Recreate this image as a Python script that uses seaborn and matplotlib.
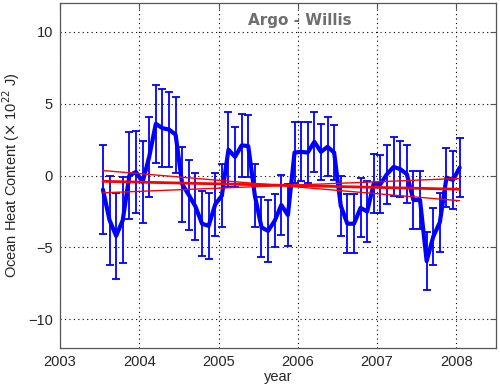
import numpy as np
import pandas as pd
import matplotlib
matplotlib.use("Agg")
import matplotlib.pyplot as plt
import seaborn as sns

# monthly Argo ocean heat content anomaly, Jul 2003 - Jan 2008 (x 10^22 J)
n_months = 55
time = 2003 + (6.5 + np.arange(n_months)) / 12.0
ohc = [-0.98, -3.1, -4.2, -3.1, 0.0, 0.25, -0.45, 1.3, 3.6, 3.3,
       3.2, 2.85, -0.6, -1.35, -2.15, -3.35, -3.5, -2.0, -1.4, 1.8,
       1.3, 2.1, 2.05, -1.4, -3.6, -3.85, -3.15, -2.05, -2.75, 1.6,
       1.65, 1.6, 2.35, 1.65, 2.0, 1.6, -2.1, -3.35, -3.35, -2.25,
       -2.5, -0.55, -0.6, 0.1, 0.6, 0.45, 0.1, -1.7, -1.7, -5.95,
       -4.25, -3.25, -0.15, -0.3, 0.55]
ohc_err = [3.1, 3.1, 3.0, 3.0, 3.0, 2.85, 2.85, 2.8, 2.7, 2.7,
           2.6, 2.65, 2.6, 2.45, 2.35, 2.25, 2.3, 2.2, 2.2, 2.6,
           2.1, 2.2, 2.15, 2.2, 2.1, 2.15, 1.85, 2.1, 2.15, 2.1,
           2.05, 2.1, 2.1, 1.95, 2.05, 1.9, 2.1, 2.05, 2.05, 2.05,
           2.1, 2.05, 2.0, 2.05, 2.05, 1.95, 2.0, 2.0, 2.0, 2.0,
           2.0, 2.05, 2.05, 2.0, 2.05]

# trend line and +/- slope uncertainty (end points)
trend_t = [time[0], time[-1]]
trend_mid = [-0.4, -0.95]
trend_hi = [0.35, -1.75]
trend_lo = [-1.2, -0.2]

xticks = [2003, 2004, 2005, 2006, 2007, 2008]
yticks = [-10, -5, 0, 5, 10]

sns.set_style("white")
plt.rcParams["font.family"] = ["Liberation Sans", "DejaVu Sans"]
plt.rcParams["xtick.direction"] = "in"
plt.rcParams["ytick.direction"] = "in"

df = pd.DataFrame({"year": time, "ohc": ohc, "err": ohc_err})
trends = pd.DataFrame({
    "year": trend_t * 3,
    "val": trend_mid + trend_hi + trend_lo,
    "which": ["mid"] * 2 + ["hi"] * 2 + ["lo"] * 2,
})

fig = plt.figure(figsize=(5.0, 3.88), dpi=100)
ax = fig.add_axes([0.12, 0.103, 0.872, 0.889])

ax.errorbar(df["year"], df["ohc"], yerr=df["err"], fmt="none",
            ecolor="#0000ff", elinewidth=1.3, capsize=3, capthick=1.3, zorder=2)
sns.lineplot(data=df, x="year", y="ohc", color="#0000ff", linewidth=3.0,
             ax=ax, zorder=3)
sns.lineplot(data=trends[trends["which"] != "mid"], x="year", y="val",
             units="which", estimator=None, color="#ff0000", linewidth=1.0,
             ax=ax, zorder=4)
sns.lineplot(data=trends[trends["which"] == "mid"], x="year", y="val",
             color="#ff0000", linewidth=2.0, ax=ax, zorder=4)

ax.set_xlim(2003, 2008.5)
ax.set_ylim(-12, 12)
ax.set_xticks(xticks)
ax.set_yticks(yticks)
ax.set_xticklabels([str(x) for x in xticks])
ax.set_yticklabels(["\u221210", "\u22125", "0", "5", "10"])
ax.tick_params(labelsize=10.5, length=4, color="#555555", top=True, right=True,
               pad=5)
ax.grid(True, linestyle=(0, (1, 3)), color="black", linewidth=0.8)
for s in ax.spines.values():
    s.set_color("#555555")
    s.set_linewidth(0.9)

ax.set_xlabel("year", fontsize=10.5, labelpad=1)
ax.set_ylabel("Ocean Heat Content ($\\times$ 10$^{22}$ J)", fontsize=10.5)
ax.yaxis.set_label_coords(-0.088, 0.5)
ax.text(2006.03, 10.8, "Argo - Willis", ha="center", va="center",
        fontsize=11, fontweight="bold", color="#6e6e6e",
        family=["DejaVu Sans"])

fig.savefig("out.png", dpi=100)
